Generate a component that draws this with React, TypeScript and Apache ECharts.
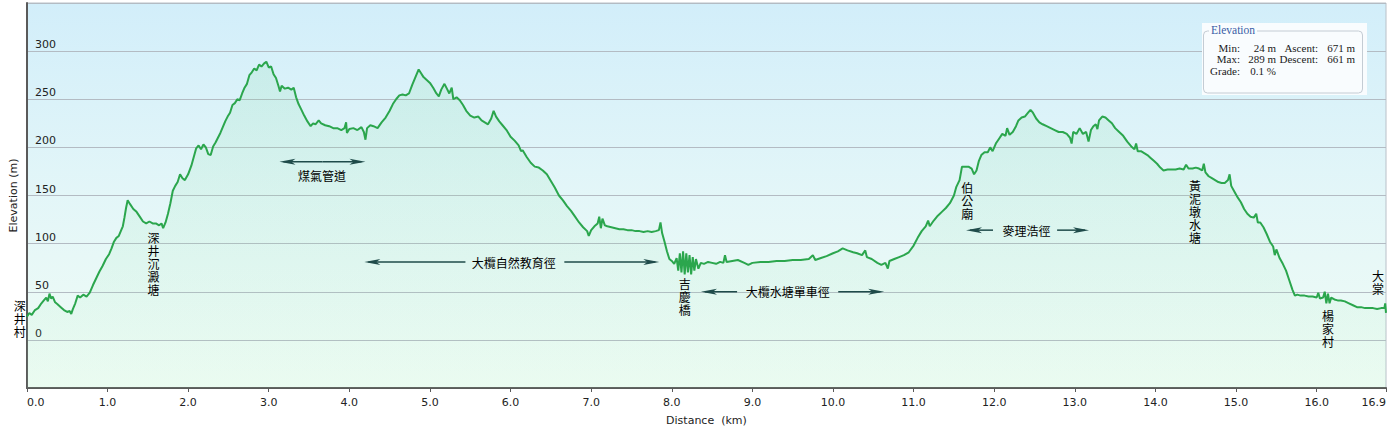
import React, { useEffect, useRef } from "react";
import * as echarts from "echarts";

// Elevation profile: [distance km, elevation m]
const PROFILE: number[][] = [
  [0.0, 24], [0.03, 28], [0.06, 26], [0.1, 31], [0.14, 33], [0.18, 38], [0.21, 41], [0.24, 44], [0.26, 40], [0.28, 48],
  [0.3, 43], [0.32, 45], [0.35, 39], [0.38, 37], [0.42, 34], [0.46, 31], [0.5, 29], [0.53, 30], [0.55, 27], [0.57, 32],
  [0.6, 38], [0.63, 46], [0.66, 44], [0.7, 47], [0.74, 45], [0.78, 49], [0.82, 57], [0.86, 64], [0.9, 71], [0.94, 77],
  [0.98, 84], [1.02, 89], [1.05, 95], [1.08, 102], [1.11, 106], [1.14, 108], [1.17, 114], [1.19, 118], [1.21, 127], [1.23, 137],
  [1.25, 145], [1.28, 141], [1.32, 136], [1.36, 133], [1.4, 128], [1.44, 123], [1.48, 121], [1.52, 123], [1.56, 121], [1.6, 121],
  [1.64, 119], [1.67, 121], [1.69, 116], [1.72, 122], [1.75, 131], [1.78, 142], [1.81, 155], [1.84, 160], [1.87, 164], [1.9, 172],
  [1.93, 168], [1.96, 166], [2.0, 172], [2.04, 181], [2.07, 190], [2.1, 199], [2.13, 202], [2.16, 198], [2.19, 203], [2.22, 200],
  [2.25, 193], [2.28, 192], [2.31, 201], [2.34, 205], [2.37, 210], [2.4, 215], [2.43, 221], [2.46, 227], [2.49, 232], [2.52, 236],
  [2.55, 244], [2.58, 246], [2.61, 250], [2.64, 249], [2.67, 256], [2.7, 262], [2.73, 266], [2.76, 275], [2.79, 278], [2.82, 282],
  [2.85, 280], [2.88, 286], [2.91, 284], [2.94, 287], [2.97, 289], [3.0, 283], [3.03, 284], [3.06, 276], [3.09, 272], [3.12, 264],
  [3.14, 258], [3.16, 264], [3.2, 261], [3.24, 262], [3.28, 260], [3.31, 262], [3.34, 252], [3.37, 245], [3.4, 240], [3.44, 233],
  [3.48, 227], [3.52, 222], [3.55, 225], [3.58, 224], [3.62, 228], [3.65, 225], [3.7, 223], [3.75, 222], [3.8, 220], [3.85, 220],
  [3.9, 218], [3.94, 220], [3.96, 226], [3.97, 215], [4.0, 219], [4.05, 220], [4.1, 218], [4.15, 221], [4.18, 216], [4.2, 208],
  [4.22, 220], [4.26, 223], [4.3, 222], [4.35, 220], [4.4, 226], [4.45, 231], [4.5, 238], [4.54, 245], [4.58, 250], [4.62, 254],
  [4.66, 255], [4.7, 254], [4.74, 256], [4.78, 265], [4.82, 273], [4.86, 281], [4.89, 277], [4.92, 273], [4.96, 270], [5.0, 267],
  [5.04, 262], [5.08, 256], [5.11, 253], [5.14, 260], [5.18, 266], [5.21, 261], [5.24, 256], [5.27, 262], [5.29, 250], [5.33, 252],
  [5.37, 249], [5.41, 244], [5.45, 238], [5.5, 233], [5.55, 231], [5.6, 232], [5.64, 228], [5.68, 226], [5.72, 224], [5.76, 230],
  [5.79, 238], [5.82, 232], [5.86, 227], [5.9, 223], [5.95, 218], [6.0, 211], [6.05, 207], [6.1, 202], [6.13, 196], [6.15, 197],
  [6.2, 190], [6.25, 184], [6.3, 180], [6.35, 179], [6.4, 176], [6.45, 172], [6.5, 165], [6.55, 158], [6.6, 150], [6.65, 145],
  [6.7, 139], [6.75, 134], [6.8, 128], [6.85, 122], [6.9, 117], [6.95, 113], [6.97, 108], [7.0, 114], [7.04, 118], [7.08, 121],
  [7.1, 128], [7.12, 116], [7.14, 126], [7.17, 119], [7.2, 118], [7.25, 117], [7.3, 116], [7.35, 115], [7.4, 115], [7.45, 114],
  [7.5, 114], [7.55, 113], [7.6, 113], [7.65, 112], [7.7, 113], [7.75, 112], [7.8, 113], [7.84, 114], [7.86, 122], [7.88, 111],
  [7.91, 102], [7.94, 92], [7.97, 84], [8.0, 82], [8.03, 79], [8.06, 85], [8.08, 72], [8.1, 90], [8.12, 70], [8.14, 92],
  [8.16, 68], [8.18, 90], [8.2, 70], [8.22, 88], [8.24, 68], [8.26, 86], [8.28, 72], [8.3, 84], [8.33, 74], [8.36, 80],
  [8.4, 79], [8.45, 81], [8.5, 80], [8.55, 79], [8.6, 81], [8.64, 80], [8.66, 88], [8.68, 81], [8.75, 82], [8.82, 83],
  [8.9, 80], [8.95, 78], [9.0, 80], [9.1, 81], [9.2, 81], [9.3, 82], [9.4, 82], [9.5, 83], [9.6, 83], [9.7, 84],
  [9.75, 88], [9.78, 83], [9.85, 85], [9.92, 87], [10.0, 90], [10.06, 92], [10.12, 95], [10.18, 93], [10.25, 91], [10.3, 90],
  [10.36, 88], [10.4, 93], [10.42, 86], [10.48, 84], [10.55, 80], [10.6, 78], [10.65, 80], [10.68, 74], [10.7, 82], [10.76, 84],
  [10.82, 86], [10.88, 88], [10.94, 91], [11.0, 98], [11.05, 106], [11.1, 113], [11.15, 118], [11.18, 124], [11.2, 118], [11.25, 124],
  [11.3, 129], [11.35, 133], [11.4, 137], [11.45, 142], [11.5, 150], [11.53, 159], [11.57, 166], [11.6, 180], [11.64, 180], [11.68, 180],
  [11.72, 178], [11.75, 172], [11.78, 176], [11.81, 186], [11.84, 192], [11.88, 195], [11.92, 195], [11.95, 200], [11.98, 196], [12.02, 204],
  [12.06, 209], [12.1, 214], [12.14, 212], [12.16, 220], [12.19, 213], [12.23, 216], [12.27, 222], [12.3, 228], [12.34, 231], [12.38, 232],
  [12.42, 236], [12.45, 239], [12.48, 236], [12.52, 230], [12.56, 226], [12.6, 224], [12.65, 222], [12.7, 220], [12.75, 218], [12.8, 216],
  [12.85, 216], [12.9, 214], [12.94, 210], [12.96, 204], [12.98, 216], [13.02, 214], [13.06, 220], [13.1, 214], [13.14, 216], [13.17, 206],
  [13.2, 218], [13.23, 222], [13.26, 224], [13.28, 219], [13.3, 228], [13.34, 232], [13.38, 231], [13.42, 228], [13.46, 225], [13.5, 220],
  [13.55, 216], [13.6, 212], [13.65, 206], [13.7, 201], [13.74, 198], [13.76, 204], [13.78, 196], [13.82, 196], [13.86, 194], [13.9, 192],
  [13.94, 189], [13.98, 186], [14.02, 183], [14.06, 179], [14.1, 176], [14.15, 177], [14.2, 177], [14.25, 177], [14.3, 178], [14.35, 177],
  [14.38, 182], [14.41, 178], [14.46, 178], [14.5, 179], [14.54, 178], [14.58, 176], [14.6, 183], [14.62, 174], [14.66, 170], [14.7, 168],
  [14.74, 166], [14.78, 164], [14.82, 163], [14.86, 163], [14.9, 166], [14.92, 172], [14.94, 160], [14.98, 154], [15.02, 148], [15.06, 143],
  [15.1, 136], [15.14, 131], [15.18, 128], [15.22, 127], [15.25, 131], [15.27, 122], [15.3, 122], [15.34, 117], [15.38, 110], [15.42, 102],
  [15.46, 97], [15.48, 88], [15.5, 94], [15.54, 85], [15.58, 79], [15.62, 72], [15.66, 62], [15.7, 52], [15.73, 46], [15.76, 47],
  [15.8, 46], [15.85, 46], [15.9, 45], [15.95, 45], [16.0, 44], [16.02, 49], [16.04, 43], [16.08, 44], [16.1, 50], [16.12, 38],
  [16.14, 48], [16.16, 38], [16.18, 44], [16.22, 42], [16.26, 41], [16.3, 41], [16.35, 40], [16.4, 38], [16.45, 36], [16.5, 34],
  [16.55, 34], [16.6, 33], [16.65, 33], [16.7, 33], [16.75, 32], [16.8, 33], [16.84, 33], [16.85, 38], [16.86, 28],
];

const X_MAX_KM = 16.86;
const Y_MIN = -50;
const Y_MAX = 350;

// Vertical place labels (anchor: centre km, top elevation m)
const PLACE_NAMES = ["深井村", "深井沉澱塘", "吉慶橋", "伯公廟", "黃泥墩水塘", "楊家村", "大棠"];
const PLACE_KM = [-0.09, 1.571, 8.161, 11.664, 14.49, 16.14, 16.76];
const PLACE_TOP_M = [42, 112.8, 64.9, 164.9, 167, 31.6, 73.2];

// Trail arrows
const TRAIL_NAMES = ["煤氣管道", "大欖自然教育徑", "大欖水塘單車徑", "麥理浩徑"];
const TRAIL_FROM_KM = [3.133, 4.186, 8.362, 11.65];
const TRAIL_GAP_FROM_KM = [3.666, 5.44, 8.81, 11.985];
const TRAIL_GAP_TO_KM = [3.666, 6.667, 10.065, 12.78];
const TRAIL_TO_KM = [4.2, 7.845, 10.635, 13.176];
const TRAIL_ELEV_M = [185, 80.8, 50, 114];
const TRAIL_TEXT_KM = [3.66, 6.04, 9.44, 12.4];
const TRAIL_TEXT_M = [171, 80.8, 50, 114];

// Summary box
const STAT_TITLE = "Elevation";
const STAT_ROW1 = ["Min:", "24 m", "Ascent:", "671 m"];
const STAT_ROW2 = ["Max:", "289 m", "Descent:", "661 m"];
const STAT_ROW3 = ["Grade:", "0.1 %"];

const CJK = '"Noto Sans CJK TC", "Noto Sans CJK SC", sans-serif';
const SANS = '"DejaVu Sans", Verdana, sans-serif';
const SERIF = '"Liberation Serif", "DejaVu Serif", serif';
const ARROW_COLOR = "#1f4b4a";

export default function App() {
  const ref = useRef<HTMLDivElement>(null);
  useEffect(() => {
    document.body.style.margin = "0";
    const chart = echarts.init(ref.current!, null, { renderer: "svg" });
    chart.setOption({
      animation: false,
      grid: {
        left: 26,
        top: 3,
        right: 6,
        bottom: 47,
        show: true,
        borderColor: "#b8c0c8",
        borderWidth: 1,
        backgroundColor: {
          type: "linear",
          x: 0, y: 0, x2: 0, y2: 1,
          colorStops: [
            { offset: 0, color: "#d2eefa" },
            { offset: 0.5, color: "#e3f6f8" },
            { offset: 1, color: "#f0fcf5" },
          ],
        },
      },
      xAxis: {
        type: "value",
        min: 0,
        max: X_MAX_KM,
        interval: 1,
        name: "Distance  (km)",
        nameLocation: "middle",
        nameGap: 27,
        nameTextStyle: { fontFamily: SANS, fontSize: 11, color: "#222" },
        axisLine: { show: true, onZero: false, lineStyle: { color: "#5a5a5a", width: 2 } },
        axisTick: { show: true, length: 4, lineStyle: { color: "#5a5a5a", width: 1 } },
        axisLabel: {
          show: true,
          margin: 9,
          fontFamily: SANS,
          fontSize: 11,
          color: "#222",
          showMinLabel: true,
          showMaxLabel: true,
          alignMinLabel: "left",
          alignMaxLabel: "right",
          formatter: (v: number) => v.toFixed(1),
        },
        splitLine: { show: false },
      },
      yAxis: {
        type: "value",
        min: Y_MIN,
        max: Y_MAX,
        interval: 50,
        name: "Elevation (m)",
        nameLocation: "middle",
        nameGap: 2,
        nameTextStyle: { fontFamily: SANS, fontSize: 11, color: "#222" },
        axisLine: { show: true, onZero: false, lineStyle: { color: "#5a5a5a", width: 2 } },
        axisTick: { show: false },
        axisLabel: {
          inside: true,
          margin: 8,
          align: "left",
          verticalAlign: "bottom",
          padding: [0, 0, 1, 0],
          fontFamily: SANS,
          fontSize: 11,
          color: "#222",
          formatter: (v: number) => (v < 0 || v > 300 ? "" : String(v)),
        },
        splitLine: { show: true, lineStyle: { color: "#b3bbc3", width: 1 } },
      },
      series: [
        {
          type: "line",
          data: PROFILE,
          showSymbol: false,
          symbol: "none",
          lineStyle: { color: "#2ba64d", width: 2 },
          areaStyle: {
            origin: "start",
            color: {
              type: "linear",
              x: 0, y: 0, x2: 0, y2: 1,
              colorStops: [
                { offset: 0, color: "rgba(120, 215, 150, 0.22)" },
                { offset: 1, color: "rgba(170, 240, 190, 0.12)" },
              ],
            },
          },
          z: 3,
        },
      ],
    });

    const toPx = (km: number, m: number) =>
      chart.convertToPixel({ gridIndex: 0 } as any, [km, m]) as number[];

    const g: any[] = [];

    // Vertical place labels: one text per character, stacked
    const STEP = 13;
    PLACE_NAMES.forEach((name, i) => {
      const [x, y] = toPx(PLACE_KM[i], PLACE_TOP_M[i]);
      name.split("").forEach((ch, j) => {
        g.push({
          type: "text",
          x,
          y: y + j * STEP + STEP / 2,
          z: 10,
          style: {
            text: ch,
            font: `12px ${CJK}`,
            fill: "#000",
            align: "center",
            verticalAlign: "middle",
          },
        });
      });
    });

    const headL = (x: number, y: number) => ({
      type: "polygon",
      z: 10,
      shape: { points: [[x, y], [x + 16, y - 3], [x + 12, y], [x + 16, y + 3]] },
      style: { fill: ARROW_COLOR },
    });
    const headR = (x: number, y: number) => ({
      type: "polygon",
      z: 10,
      shape: { points: [[x, y], [x - 16, y - 3], [x - 12, y], [x - 16, y + 3]] },
      style: { fill: ARROW_COLOR },
    });

    TRAIL_NAMES.forEach((name, i) => {
      const [x1, y] = toPx(TRAIL_FROM_KM[i], TRAIL_ELEV_M[i]);
      const [x2] = toPx(TRAIL_GAP_FROM_KM[i], TRAIL_ELEV_M[i]);
      const [x3] = toPx(TRAIL_GAP_TO_KM[i], TRAIL_ELEV_M[i]);
      const [x4] = toPx(TRAIL_TO_KM[i], TRAIL_ELEV_M[i]);
      g.push({ type: "line", z: 9, shape: { x1: x1 + 4, y1: y, x2, y2: y }, style: { stroke: ARROW_COLOR, lineWidth: 1.5 } });
      g.push({ type: "line", z: 9, shape: { x1: x3, y1: y, x2: x4 - 4, y2: y }, style: { stroke: ARROW_COLOR, lineWidth: 1.5 } });
      g.push(headL(x1, y));
      g.push(headR(x4, y));
      const [tx, ty] = toPx(TRAIL_TEXT_KM[i], TRAIL_TEXT_M[i]);
      g.push({
        type: "text",
        x: tx,
        y: ty,
        z: 10,
        style: { text: name, font: `12px ${CJK}`, fill: "#000", align: "center", verticalAlign: "middle" },
      });
    });

    // Summary box
    g.push({ type: "rect", z: 20, shape: { x: 1202, y: 23, width: 165, height: 72 }, style: { fill: "#f9fcfe" } });
    g.push({
      type: "rect",
      z: 21,
      shape: { x: 1203.5, y: 31, width: 159, height: 62, r: 4 },
      style: { fill: "none", stroke: "#c4ccd4", lineWidth: 1 },
    });
    g.push({ type: "rect", z: 22, shape: { x: 1209, y: 24, width: 48, height: 12 }, style: { fill: "#f9fcfe" } });
    g.push({
      type: "text",
      z: 23,
      x: 1211,
      y: 29.5,
      style: { text: STAT_TITLE, font: `11.5px ${SERIF}`, fill: "#3a5ca6", align: "left", verticalAlign: "middle" },
    });
    const rowText = (text: string, x: number, y: number) => ({
      type: "text",
      z: 23,
      x,
      y,
      style: { text, font: `11px ${SERIF}`, fill: "#1a1a1a", align: "right", verticalAlign: "middle" },
    });
    const cols = [1240, 1276, 1318, 1355];
    STAT_ROW1.forEach((t, i) => g.push(rowText(t, cols[i], 47.5)));
    STAT_ROW2.forEach((t, i) => g.push(rowText(t, cols[i], 59)));
    STAT_ROW3.forEach((t, i) => g.push(rowText(t, cols[i], 70.7)));

    chart.setOption({ graphic: g });
    return () => chart.dispose();
  }, []);
  return <div ref={ref} style={{ width: 1392, height: 435 }} />;
}
